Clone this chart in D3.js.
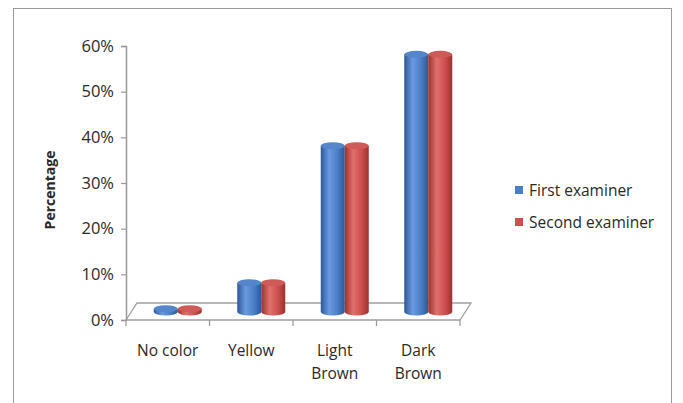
<!DOCTYPE html>
<html><head><meta charset="utf-8">
<script src="https://cdn.jsdelivr.net/npm/d3@7"></script>
<style>
html,body{margin:0;padding:0;background:#fff;}
svg{display:block;}
text{font-family:"Open Sans","Lato",sans-serif;fill:#2a2a2a;}
</style></head>
<body>
<svg id="chart" width="683" height="403"></svg>
<script>
const categories = ["No color", "Yellow", "Light Brown", "Dark Brown"];
const categoryLabels = [["No color"], ["Yellow"], ["Light", "Brown"], ["Dark", "Brown"]];
const seriesNames = ["First examiner", "Second examiner"];
const firstExaminer = [0.005, 0.062, 0.362, 0.562];
const secondExaminer = [0.005, 0.062, 0.362, 0.562];
const yTicks = [0, 0.1, 0.2, 0.3, 0.4, 0.5, 0.6];
const yTitle = "Percentage";

const series = [firstExaminer, secondExaminer];
const colors = [
  {base:"#4a7ec6", dark:"#2d5896", light:"#6a9ae0", top:"#5586cc"},
  {base:"#cc4f4c", dark:"#9a322f", light:"#e0706c", top:"#d05a57"}
];

const svg = d3.select("#chart");
// outer frame
svg.append("rect").attr("x",13.5).attr("y",8.5).attr("width",658).attr("height",420)
  .attr("fill","none").attr("stroke","#9a9a9a").attr("stroke-width",1);

const x = d3.scaleBand().domain(categories).range([126, 460]).paddingInner(0).paddingOuter(0);
const y = d3.scaleLinear().domain([0, 0.6]).range([320, 46]);
const depth = {dx: 11, dy: -17};

const defs = svg.append("defs");
colors.forEach((c,i)=>{
  const g = defs.append("linearGradient").attr("id","cyl"+i).attr("x1","0").attr("x2","1").attr("y1","0").attr("y2","0");
  g.append("stop").attr("offset","0").attr("stop-color",c.dark);
  g.append("stop").attr("offset","0.35").attr("stop-color",c.light);
  g.append("stop").attr("offset","0.7").attr("stop-color",c.base);
  g.append("stop").attr("offset","1").attr("stop-color",c.dark);
});

// floor
const x0 = x.range()[0], x1 = x.range()[1], y0 = y(0);
svg.append("path")
  .attr("d", `M${x0},${y0} L${x1},${y0} L${x1+depth.dx},${y0+depth.dy} L${x0+depth.dx},${y0+depth.dy} Z`)
  .attr("fill","#fff").attr("stroke","#a0a0a0").attr("stroke-width",1.3);

// y axis
const yAxis = d3.axisLeft(y).tickValues(yTicks).tickFormat(d3.format(".0%")).tickSize(5).tickPadding(7);
const ya = svg.append("g").attr("transform",`translate(${x0},0)`).call(yAxis);
ya.select(".domain").attr("stroke","#999").attr("stroke-width",1.5);
ya.selectAll(".tick line").attr("stroke","#999").attr("stroke-width",1.2);
ya.selectAll(".tick text").attr("font-size",16.5).attr("fill","#2a2a2a").style("font-family","'Open Sans',sans-serif");

// x axis ticks at band boundaries
const bounds = categories.map(c=>x(c)).concat([x1]);
svg.selectAll(".xtick").data(bounds).enter().append("line")
  .attr("x1",d=>d).attr("x2",d=>d).attr("y1",y0).attr("y2",y0+6)
  .attr("stroke","#999").attr("stroke-width",1.2);

// x labels
const xl = svg.append("g");
categories.forEach((c,i)=>{
  const t = xl.append("text").attr("x", x(c)+x.bandwidth()/2).attr("y", 356)
    .attr("text-anchor","middle").attr("font-size",15.5);
  categoryLabels[i].forEach((line,j)=>{
    t.append("tspan").attr("x", x(c)+x.bandwidth()/2).attr("dy", j===0?0:23).text(line);
  });
});

// cylinders
const bw = 24, ry = 3.5, offset = 10;
const bars = svg.append("g");
categories.forEach((c,ci)=>{
  const cx = x(c) + x.bandwidth()/2 + offset;
  series.forEach((s,si)=>{
    const left = si===0 ? cx - bw : cx;
    const rx = bw/2;
    const base = y(0) + depth.dy/2 + 0.5;
    const top = y(s[ci]) + depth.dy/2 - 0.5;
    const r = Math.min(ry, Math.max(2, (base - top) + 1.5));
    bars.append("path")
      .attr("d", `M${left},${top} L${left},${base} A${rx},${r} 0 0 0 ${left+bw},${base} L${left+bw},${top} Z`)
      .attr("fill", `url(#cyl${si})`);
    bars.append("ellipse").attr("cx", left+rx).attr("cy", top).attr("rx", rx).attr("ry", r)
      .attr("fill", colors[si].top);
  });
});

// y title
svg.append("text").attr("transform","translate(55,190) rotate(-90)")
  .attr("text-anchor","middle").attr("font-size",14).attr("font-weight","bold").text(yTitle);

// legend
const lg = svg.append("g");
seriesNames.forEach((n,i)=>{
  const ly = 190 + i*32;
  lg.append("rect").attr("x",515).attr("y",ly-4).attr("width",8).attr("height",8).attr("fill",colors[i].base);
  lg.append("text").attr("x",529).attr("y",ly+5.5).attr("font-size",15.5).text(n);
});
</script>
</body></html>
